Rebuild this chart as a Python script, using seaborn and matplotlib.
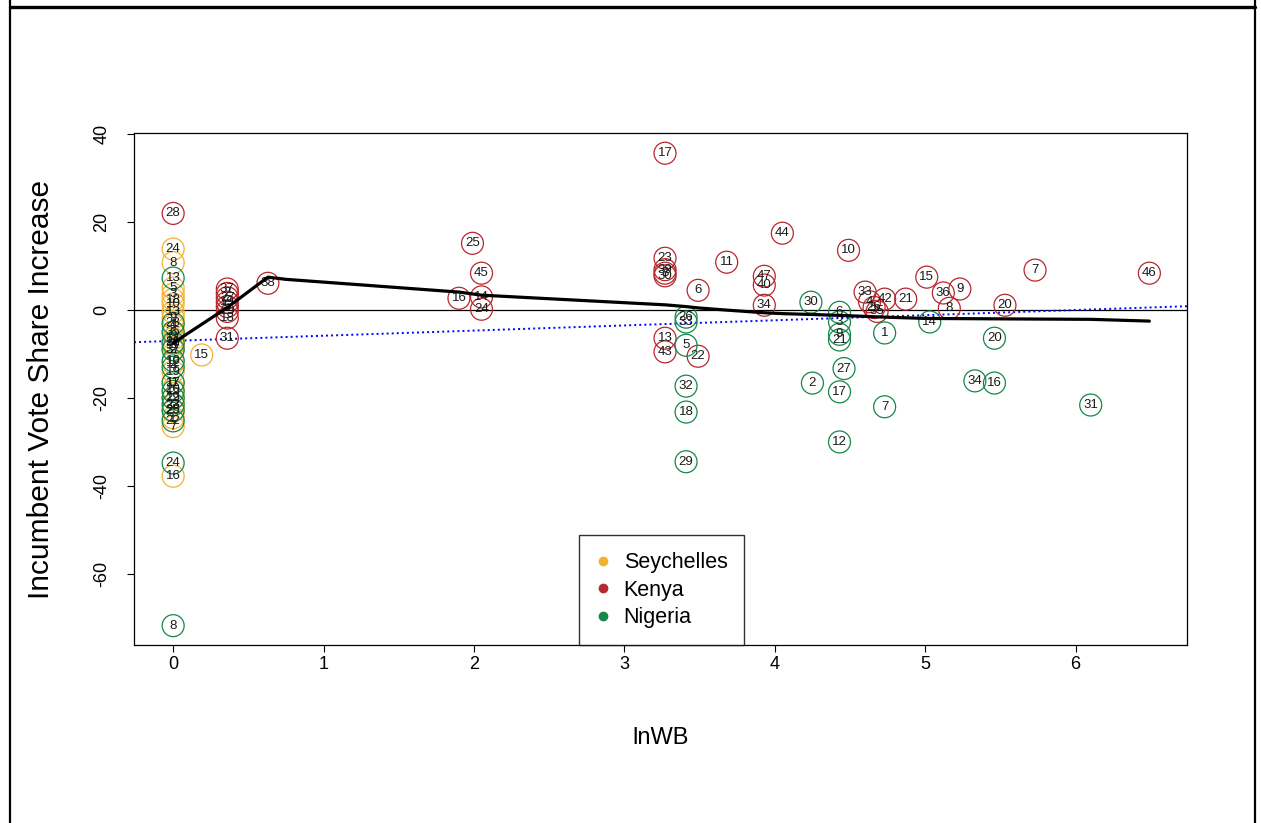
"""
plot.py
Incumbent vote share increase against lnWB, by country (Seychelles, Kenya, Nigeria).
"""

import numpy as np
import pandas as pd
import matplotlib
matplotlib.use("Agg")
import matplotlib.pyplot as plt
from matplotlib.lines import Line2D
import seaborn as sns

# ── Data ───────────────────────────────────────────────────────────────────────
sey_labels = [1, 2, 3, 4, 5, 6, 7, 8, 9, 10, 11, 12, 13, 14, 15, 16, 17, 18, 19,
              20, 21, 22, 23, 24, 25]
sey_x = [0, 0, 0, 0, 0, 0, 0, 0, 0, 0, 0, 0, 0, 0, 0.19, 0, 0, 0, 0,
         0, 0, 0, 0, 0, 0]
sey_y = [-24.5, -9.0, 3.6, -3.5, 5.0, -5.2, -26.5, 10.8, -1.8, 1.4, -8.0, -12.0, -0.5,
         -6.5, -10.2, -37.8, -16.5, 2.4, -14.0, -18.0, -7.2, -20.0, -21.5, 13.9, -23.0]

ken_labels = [28, 37, 2, 27, 19, 5, 29, 18, 31, 38, 16, 25, 45, 14, 24, 17, 23, 39, 3,
              30, 13, 43, 6, 11, 22, 44, 47, 40, 34, 10, 33, 4, 26, 35, 42, 21, 15,
              36, 9, 8, 20, 7, 46]
ken_x = [0, 0.36, 0.36, 0.36, 0.36, 0.36, 0.36, 0.36, 0.36, 0.63, 1.90, 1.99, 2.05,
         2.05, 2.05, 3.27, 3.27, 3.27, 3.27, 3.27, 3.27, 3.27, 3.49, 3.68, 3.49, 4.05,
         3.93, 3.93, 3.93, 4.49, 4.60, 4.63, 4.66, 4.68, 4.73, 4.87, 5.01, 5.12, 5.23,
         5.16, 5.53, 5.73, 6.49]
ken_y = [22.0, 4.8, 3.8, 2.8, 1.8, 0.8, -0.3, -1.8, -6.4, 6.1, 2.7, 15.2, 8.4, 3.0,
         0.2, 35.7, 11.8, 9.2, 8.4, 7.8, -6.4, -9.5, 4.5, 10.9, -10.5, 17.5, 7.7, 5.7,
         1.1, 13.6, 4.1, 1.9, 0.6, -0.3, 2.5, 2.5, 7.5, 3.9, 4.8, 0.4, 1.1, 9.1, 8.4]

nig_labels = [8, 13, 4, 10, 11, 15, 19, 22, 23, 24, 25, 28, 35, 36, 37, 26, 33, 5, 32,
              18, 29, 30, 2, 6, 3, 9, 21, 27, 17, 12, 1, 7, 14, 20, 34, 16, 31]
nig_x = [0, 0, 0, 0, 0, 0, 0, 0, 0, 0, 0, 0, 0, 0, 0, 3.41, 3.41, 3.41, 3.41, 3.41,
         3.41, 4.24, 4.25, 4.43, 4.43, 4.43, 4.43, 4.46, 4.43, 4.43, 4.73, 4.73, 5.03,
         5.46, 5.33, 5.46, 6.10]
nig_y = [-71.8, 7.3, -13.0, -11.5, -16.5, -18.5, -20.0, -25.2, -21.5, -34.8, -22.8,
         -3.0, -5.0, -7.5, -9.0, -1.6, -2.7, -8.0, -17.3, -23.2, -34.5, 1.8, -16.6,
         -0.5, -2.7, -5.5, -6.8, -13.3, -18.6, -30.0, -5.2, -22.0, -2.7, -6.4, -16.1,
         -16.6, -21.6]

# smoothed fit (black) and linear fit (blue dotted)
smooth_x = [0, 0.36, 0.63, 0.75, 1.90, 2.05, 3.27, 3.41, 3.49, 3.68, 3.93, 4.05,
            4.25, 4.43, 4.73, 5.01, 5.53, 6.10, 6.49]
smooth_y = [-7.5, 0.6, 7.5, 7.0, 4.1, 3.4, 1.2, 0.8, 0.5, 0.0, -0.6, -0.8, -1.0,
            -1.2, -1.6, -1.9, -2.0, -2.1, -2.5]
lin_intercept = -7.0
lin_slope = 1.17

countries = ["Seychelles", "Kenya", "Nigeria"]
colors = ["#F2B230", "#B8272D", "#13884A"]

df = pd.DataFrame({
    "lnWB": sey_x + ken_x + nig_x,
    "increase": sey_y + ken_y + nig_y,
    "label": sey_labels + ken_labels + nig_labels,
    "country": (["Seychelles"] * len(sey_x) + ["Kenya"] * len(ken_x)
                + ["Nigeria"] * len(nig_x)),
})

# ── Plot ───────────────────────────────────────────────────────────────────────
sns.set_style("white")
plt.rcParams["font.family"] = ["Liberation Sans", "DejaVu Sans"]
plt.rcParams["axes.unicode_minus"] = False

fig = plt.figure(figsize=(12.61, 8.23), dpi=100)
ax = fig.add_axes([0.1063, 0.2163, 0.835, 0.6221])

sns.scatterplot(data=df, x="lnWB", y="increase", hue="country",
                hue_order=countries, palette=colors, s=250, linewidth=0.9,
                legend=False, ax=ax, zorder=3)
# hollow circles, as in R's pch = 1
pts = ax.collections[0]
pts.set_edgecolors(pts.get_facecolors())
pts.set_facecolors("none")

for _, r in df.iterrows():
    ax.text(r["lnWB"], r["increase"], str(r["label"]), ha="center", va="center",
            fontsize=9.5, color="#1a1a1a", zorder=4)

ax.axhline(0, color="black", lw=0.9, zorder=2)
ax.axline((0, lin_intercept), slope=lin_slope, color="#0000FF", lw=1.4,
          ls=(0, (1, 1.6)), zorder=2)
sns.lineplot(x=smooth_x, y=smooth_y, estimator=None, sort=False, color="black",
             lw=2.3, ax=ax, zorder=5)

ax.set_xlim(-0.26, 6.74)
ax.set_ylim(-76.2, 40.3)
ax.set_xticks(range(0, 7))
ax.set_yticks([-60, -40, -20, 0, 20, 40])
ax.tick_params(axis="both", direction="out", length=5, width=0.8, color="black",
               labelsize=13, labelcolor="black", bottom=True, left=True)
ax.tick_params(axis="x", pad=3)
ax.tick_params(axis="y", pad=12)
for lab in ax.get_yticklabels():
    lab.set_rotation(90)
    lab.set_va("center")
for sp in ax.spines.values():
    sp.set_color("black")
    sp.set_linewidth(0.9)

ax.set_xlabel("lnWB", fontsize=17, labelpad=39, color="black")
ax.set_ylabel("Incumbent Vote Share Increase", fontsize=21.5, labelpad=28,
              color="black")

handles = [Line2D([], [], ls="none", marker="o", ms=6, color=c) for c in colors]
leg = ax.legend(handles, countries, loc="lower center", bbox_to_anchor=(0.501, 0),
                borderaxespad=0, fontsize=15.5, frameon=True, fancybox=False,
                edgecolor="black", handletextpad=0.6, borderpad=0.78,
                labelspacing=0.3, handlelength=0.7)
leg.get_frame().set_linewidth(1.0)
leg.set_zorder(6)
for t in leg.get_texts():
    t.set_color("black")

# outer frame lines of the screenshot
fig.add_artist(Line2D([0.008, 0.995], [1 - 7 / 823, 1 - 7 / 823], color="black",
                      lw=2.4, transform=fig.transFigure))
fig.add_artist(Line2D([10 / 1261, 10 / 1261], [0, 1], color="black", lw=1.6,
                      transform=fig.transFigure))
fig.add_artist(Line2D([1255 / 1261, 1255 / 1261], [0, 1], color="black", lw=1.6,
                      transform=fig.transFigure))

fig.savefig("out.png", dpi=100)
plt.close(fig)
